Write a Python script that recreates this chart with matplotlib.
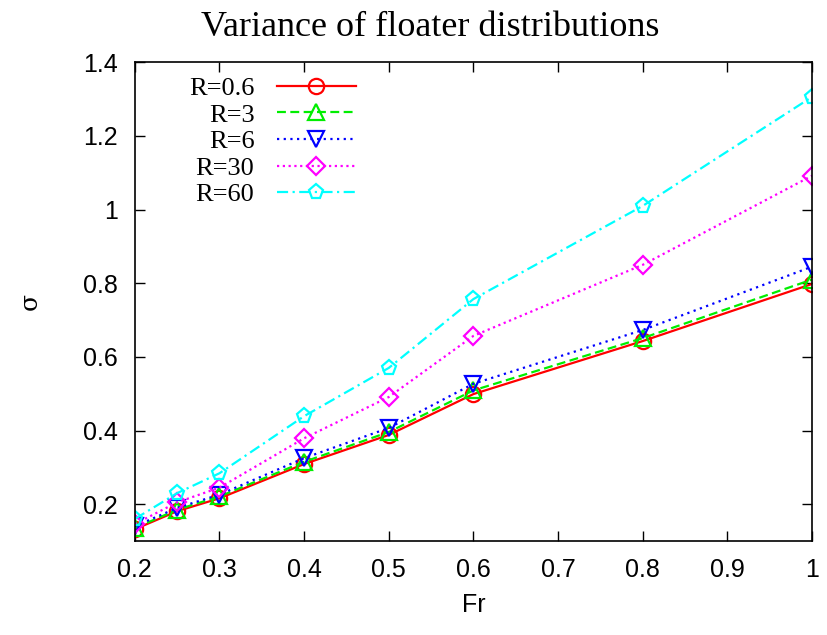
import matplotlib
matplotlib.use("Agg")
import matplotlib.pyplot as plt

fr = [0.2, 0.25, 0.3, 0.4, 0.5, 0.6, 0.8, 1.0]

sigma_r06 = [0.132, 0.181, 0.216, 0.309, 0.388, 0.499, 0.643, 0.798]
sigma_r3 = [0.135, 0.185, 0.221, 0.315, 0.396, 0.509, 0.651, 0.810]
sigma_r6 = [0.140, 0.190, 0.226, 0.325, 0.407, 0.527, 0.673, 0.845]
sigma_r30 = [0.146, 0.205, 0.245, 0.379, 0.491, 0.657, 0.850, 1.092]
sigma_r60 = [0.160, 0.230, 0.284, 0.439, 0.570, 0.757, 1.010, 1.306]

labels = ['R=0.6', 'R=3', 'R=6', 'R=30', 'R=60']

fig = plt.figure(figsize=(8.27, 6.35), dpi=100)
ax = fig.add_axes([0.163, 0.148, 0.819, 0.754])

styles = [
    (sigma_r06, 'red', '-', 'o'),
    (sigma_r3, '#00ee00', (0, (4, 2)), '^'),
    (sigma_r6, 'blue', (0, (1, 2)), 'v'),
    (sigma_r30, 'magenta', (0, (1, 1.6)), 'D'),
    (sigma_r60, 'cyan', (0, (5, 2, 1, 2)), 'p'),
]
for (vals, col, ls, mk), lab in zip(styles, labels):
    ms = 9 if mk == 'D' else 11
    ax.plot(fr, vals, color=col, linestyle=ls, linewidth=1.6, marker=mk,
            markersize=ms, markerfacecolor='none', markeredgewidth=1.6,
            label=lab)

ax.set_xlim(0.2, 1.0)
ax.set_ylim(0.1, 1.4)
ax.set_xticks([0.2, 0.3, 0.4, 0.5, 0.6, 0.7, 0.8, 0.9, 1.0])
ax.set_xticklabels(['0.2', '0.3', '0.4', '0.5', '0.6', '0.7', '0.8', '0.9', '1'])
ax.set_yticks([0.2, 0.4, 0.6, 0.8, 1.0, 1.2, 1.4])
ax.set_yticklabels(['0.2', '0.4', '0.6', '0.8', '1', '1.2', '1.4'])
ax.tick_params(direction='in', top=True, right=True, length=7, width=1,
               labelsize=18, pad=12)
for lbl in ax.get_xticklabels() + ax.get_yticklabels():
    lbl.set_family('Liberation Sans')
for sp in ax.spines.values():
    sp.set_linewidth(1.2)

ax.set_xlabel('Fr', fontsize=18, family='Liberation Sans', labelpad=8)
ax.set_ylabel('σ', fontsize=18, family='DejaVu Serif', labelpad=30)
fig.text(0.52, 0.957, 'Variance of floater distributions', fontsize=26,
         family='Liberation Serif', ha='center', va='center')

leg = ax.legend(loc='upper left', markerfirst=False, frameon=False,
                prop={'family': 'Liberation Serif', 'size': 19},
                handlelength=3.0, handletextpad=0.85, labelspacing=0.12,
                bbox_to_anchor=(0.045, 1.02))
for t in leg.get_texts():
    t.set_ha('right')
leg._legend_box.align = 'right'

fig.savefig('out.png', dpi=100)
